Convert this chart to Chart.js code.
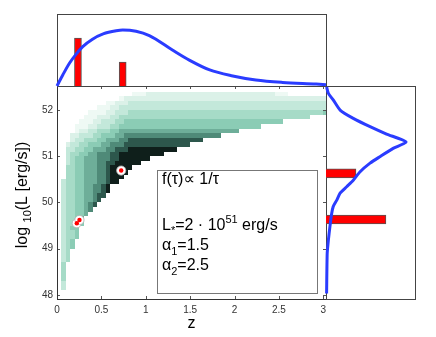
<!DOCTYPE html>
<html>
<head>
<meta charset="utf-8">
<script src="https://cdn.jsdelivr.net/npm/chart.js@4.4.0/dist/chart.umd.min.js"></script>
<style>
  html, body { margin: 0; padding: 0; background: #fff; }
  #wrap { position: relative; width: 436px; height: 337px; }
  canvas { position: absolute; }
</style>
</head>
<body>
<div id="wrap">
  <canvas id="main" width="436" height="337" style="left:0;top:0"></canvas>
  <canvas id="top" width="289" height="92" style="left:47px;top:4px"></canvas>
  <canvas id="side" width="109" height="233" style="left:316px;top:76px"></canvas>
</div>
<script>
// axes
var zMin = 0, zMax = 3.03;
var logLMin = 47.91, logLMax = 52.52;
var zTicks = [0, 0.5, 1, 1.5, 2, 2.5, 3];
var logLTicks = [48, 49, 50, 51, 52];

// detected bursts
var burstZ = [0.723, 0.223, 0.253];
var burstL = [50.69, 49.55, 49.62];

// top panel: z histogram and model curve
var zHistCenters = [0.236, 0.74];
var zHistCounts = [2, 1];
var zCurveX = [0, 0.065, 0.14, 0.216, 0.29, 0.40, 0.52, 0.667, 0.74, 0.89, 1.04, 1.30, 1.49, 1.72, 1.98, 2.24, 2.54, 2.92, 3.03];
var zCurveY = [0, 0.46, 0.95, 1.33, 1.64, 1.95, 2.17, 2.30, 2.33, 2.28, 2.10, 1.50, 1.08, 0.67, 0.42, 0.25, 0.15, 0.08, 0.055];

// side panel: log L histogram and model curve
var lHistCenters = [50.63, 49.63];
var lHistCounts = [1, 2];
var lCurveL = [52.50, 52.36, 52.22, 52.0, 51.82, 51.64, 51.48, 51.31, 51.17, 50.99, 50.85, 50.66, 50.48, 50.34, 50.20, 50.05, 49.91, 49.76, 49.47, 49.19, 48.90, 48.03];
var lCurveN = [0.02, 0.08, 0.24, 0.47, 0.91, 1.47, 2.02, 2.67, 2.24, 1.80, 1.47, 1.13, 0.91, 0.69, 0.47, 0.36, 0.24, 0.19, 0.13, 0.08, 0.04, 0.02];

// density map: one string per log L row (bottom row first), one char per z column, '.' = empty
var heatL0 = 48.0, heatDL = 0.1, heatDZ = 0.05;
var heatRows = [
  "",
  ".3",
  ".3",
  ".4",
  ".4",
  ".4",
  ".4",
  ".34",
  ".34",
  ".34",
  ".345",
  ".345",
  ".3445",
  ".3445",
  ".3455",
  ".34455",
  ".34456",
  ".344556",
  ".3445567",
  ".34455678",
  ".344556678",
  ".3445566788",
  ".34455667789",
  ".34455667789",
  ".3445566677899",
  "..4455666778999",
  "..44556667789999",
  "..445566677899999",
  "..34556667788999999",
  "..3455666777889999999",
  "..344556677788" + "9999999999",
  "..33445566677888" + "99999999999",
  "..2334455566777" + "888888888888888",
  "...2334445566677" + "88888888888888888",
  "...223334455566" + "7777777777777777777777",
  "....1223344455" + "666666666666666666666666666",
  "....1112233344" + "55555555555555555555555555555555",
  ".....1112233344" + "555555555555555555555555555555555555",
  "......11122233" + "4444444444444444444444444444444444444444444",
  ".......111122333" + "444444444444444444444444444444444444444444445",
  ".........11122" + "33333333333333333333333333333333333333333333333",
  "...........11222" + "333333333333333333333333333333333333333333333",
  "..............1" + "2222222222222222222222222222222222222222222222",
  ".................111" + "22222222222222222222222222222" + "111"
];
var heatShades = ['#ffffff', '#eef9f4', '#dbf1e8', '#c3e8da', '#a6dbc7', '#8bccb5', '#6eae99', '#4f8a78', '#2d574c', '#0f1f1b'];

var fontStack = '"Liberation Sans", "DejaVu Sans", sans-serif';
Chart.defaults.font.family = fontStack;

function drawParts(ctx, parts, x, y) {
    for (var i = 0; i < parts.length; i++) {
        ctx.font = parts[i][1] + 'px ' + fontStack;
        ctx.fillText(parts[i][0], x, y + parts[i][2]);
        x += ctx.measureText(parts[i][0]).width;
    }
    return x;
}
function partsWidth(ctx, parts) {
    var w = 0;
    for (var i = 0; i < parts.length; i++) {
        ctx.font = parts[i][1] + 'px ' + fontStack;
        w += ctx.measureText(parts[i][0]).width;
    }
    return w;
}

var heatPlugin = {
    id: 'heat',
    beforeDatasetsDraw: function(chart) {
        var ctx = chart.ctx, xs = chart.scales.x, ys = chart.scales.y, a = chart.chartArea;
        ctx.save();
        ctx.beginPath();
        ctx.rect(a.left, a.top, a.right - a.left, a.bottom - a.top);
        ctx.clip();
        for (var r = 0; r < heatRows.length; r++) {
            var row = heatRows[r];
            var y0 = Math.round(ys.getPixelForValue(heatL0 + (r + 1) * heatDL));
            var y1 = Math.round(ys.getPixelForValue(heatL0 + r * heatDL));
            for (var c = 0; c < row.length; c++) {
                var lvl = row.charAt(c);
                if (lvl === '.') continue;
                var x0 = Math.round(xs.getPixelForValue(c * heatDZ));
                var x1 = Math.round(xs.getPixelForValue((c + 1) * heatDZ));
                ctx.fillStyle = heatShades[+lvl];
                ctx.fillRect(x0, y0, x1 - x0, y1 - y0);
            }
        }
        ctx.restore();
    }
};

var framePlugin = {
    id: 'frame',
    afterDatasetsDraw: function(chart) {
        var ctx = chart.ctx, xs = chart.scales.x, ys = chart.scales.y, a = chart.chartArea;
        ctx.save();
        // inward ticks
        ctx.strokeStyle = '#555';
        ctx.lineWidth = 1;
        ctx.beginPath();
        zTicks.forEach(function(v) {
            var x = Math.round(xs.getPixelForValue(v)) + 0.5;
            ctx.moveTo(x, a.bottom); ctx.lineTo(x, a.bottom - 3);
            ctx.moveTo(x, a.top); ctx.lineTo(x, a.top + 3);
        });
        logLTicks.forEach(function(v) {
            var y = Math.round(ys.getPixelForValue(v)) + 0.5;
            ctx.moveTo(a.left, y); ctx.lineTo(a.left + 3, y);
            ctx.moveTo(a.right, y); ctx.lineTo(a.right - 3, y);
        });
        ctx.stroke();
        ctx.strokeStyle = '#333';
        ctx.strokeRect(Math.round(a.left) + 0.5, Math.round(a.top) + 0.5, Math.round(a.right - a.left), Math.round(a.bottom - a.top));

        // legend box
        var bx = a.left + 100.5, by = a.top + 84.5;
        ctx.fillStyle = '#fff';
        ctx.fillRect(bx, by, 160, 123);
        ctx.strokeStyle = '#777';
        ctx.strokeRect(bx, by, 160, 123);
        ctx.fillStyle = '#000';
        ctx.textAlign = 'left';
        ctx.textBaseline = 'alphabetic';
        var tx = a.left + 105;
        drawParts(ctx, [['f(\u03c4)\u221d 1/\u03c4', 16, 0]], tx, a.top + 98);
        drawParts(ctx, [['L', 16, 0], ['*', 11, 4], ['=2 \u00b7 10', 16, 0], ['51', 11, -7], [' erg/s', 16, 0]], tx, a.top + 144);
        drawParts(ctx, [['\u03b1', 16, 0], ['1', 11, 5], ['=1.5', 16, 0]], tx, a.top + 164);
        drawParts(ctx, [['\u03b1', 16, 0], ['2', 11, 5], ['=2.5', 16, 0]], tx, a.top + 184);

        // axis titles
        ctx.textAlign = 'center';
        ctx.font = '16px ' + fontStack;
        ctx.fillText('z', (a.left + a.right) / 2, 328);
        ctx.textAlign = 'left';
        var yParts = [['log ', 16, 0], ['10', 11, 4], ['(L [erg/s])', 16, 0]];
        ctx.translate(27, 195);
        ctx.rotate(-Math.PI / 2);
        drawParts(ctx, yParts, -partsWidth(ctx, yParts) / 2, 0);
        ctx.restore();
    }
};

var boxPlugin = {
    id: 'box',
    beforeDatasetsDraw: function(chart) {
        var a = chart.chartArea, ctx = chart.ctx;
        ctx.save();
        ctx.strokeStyle = '#444';
        ctx.lineWidth = 1;
        ctx.strokeRect(Math.round(a.left) + 0.5, Math.round(a.top) + 0.5, Math.round(a.right - a.left), Math.round(a.bottom - a.top));
        ctx.restore();
    }
};

var burstPoints = burstZ.map(function(z, i) { return {x: z, y: burstL[i]}; });
var zCurve = zCurveX.map(function(z, i) { return {x: z, y: zCurveY[i]}; });
var zHist = zHistCenters.map(function(z, i) { return {x: z, y: zHistCounts[i]}; });
var lCurve = lCurveL.map(function(l, i) { return {x: lCurveN[i], y: l}; });
var lHist = lHistCenters.map(function(l, i) { return {x: lHistCounts[i], y: l}; });

new Chart(document.getElementById('main'), {
    type: 'scatter',
    data: {
        datasets: [{
            data: burstPoints,
            pointRadius: 2.2,
            pointBackgroundColor: '#ff0000',
            pointBorderWidth: 0
        }, {
            data: burstPoints,
            pointRadius: 4.6,
            pointBackgroundColor: '#ffffff',
            pointBorderColor: '#b0b0b0',
            pointBorderWidth: 0.8
        }]
    },
    options: {
        responsive: false,
        animation: false,
        layout: { padding: { left: 0, right: 110, top: 86, bottom: 0 } },
        plugins: { legend: { display: false }, tooltip: { enabled: false } },
        scales: {
            x: {
                type: 'linear', min: zMin, max: zMax,
                grid: { display: false, drawTicks: false },
                border: { display: false },
                ticks: { font: { size: 10 }, color: '#333', padding: 5, maxRotation: 0, autoSkip: false,
                         callback: function(v) { return String(v); } },
                afterBuildTicks: function(s) { s.ticks = zTicks.map(function(v) { return {value: v}; }); },
                afterFit: function(s) { s.height = 38; }
            },
            y: {
                type: 'linear', min: logLMin, max: logLMax,
                grid: { display: false, drawTicks: false },
                border: { display: false },
                ticks: { font: { size: 10 }, color: '#333', padding: 4,
                         callback: function(v) { return String(v); } },
                afterBuildTicks: function(s) { s.ticks = logLTicks.map(function(v) { return {value: v}; }); },
                afterFit: function(s) { s.width = 57; }
            }
        }
    },
    plugins: [heatPlugin, framePlugin]
});

new Chart(document.getElementById('top'), {
    type: 'bar',
    data: {
        datasets: [{
            type: 'line',
            data: zCurve,
            borderColor: '#2a3cff',
            borderWidth: 3,
            pointRadius: 0,
            cubicInterpolationMode: 'monotone',
            clip: false
        }, {
            type: 'bar',
            data: zHist,
            backgroundColor: '#ff0000',
            borderColor: '#555',
            borderWidth: 1,
            barThickness: 7
        }]
    },
    options: {
        responsive: false,
        animation: false,
        layout: { padding: 10 },
        plugins: { legend: { display: false }, tooltip: { enabled: false } },
        scales: {
            x: { type: 'linear', display: false, min: zMin, max: zMax, offset: false },
            y: { type: 'linear', display: false, min: 0, max: 3 }
        }
    },
    plugins: [boxPlugin]
});

new Chart(document.getElementById('side'), {
    type: 'bar',
    data: {
        datasets: [{
            type: 'line',
            indexAxis: 'y',
            data: lCurve,
            borderColor: '#2a3cff',
            borderWidth: 3,
            pointRadius: 0,
            tension: 0.2,
            clip: false
        }, {
            type: 'bar',
            data: lHist,
            backgroundColor: '#ff0000',
            borderColor: '#555',
            borderWidth: 1,
            barThickness: 9
        }]
    },
    options: {
        indexAxis: 'y',
        responsive: false,
        animation: false,
        layout: { padding: 10 },
        plugins: { legend: { display: false }, tooltip: { enabled: false } },
        scales: {
            x: { type: 'linear', display: false, min: 0, max: 2.97 },
            y: { type: 'linear', display: false, min: logLMin, max: logLMax, offset: false }
        }
    },
    plugins: [boxPlugin]
});
</script>
</body>
</html>
